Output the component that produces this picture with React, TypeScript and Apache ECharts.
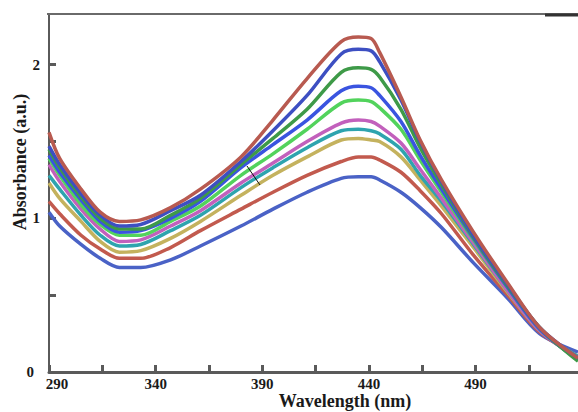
import React, { useEffect, useRef } from "react";
import * as echarts from "echarts";

const wavelengths = [290, 295, 305, 314, 323, 333, 347, 361, 380, 395, 411, 427, 435, 441, 445, 455, 464, 474, 489, 505, 520, 538];

const curve1 = [1.56, 1.39, 1.19, 1.04, 0.98, 0.99, 1.07, 1.19, 1.40, 1.64, 1.91, 2.15, 2.18, 2.17, 2.08, 1.79, 1.51, 1.25, 0.91, 0.58, 0.29, 0.09];
const curve2 = [1.47, 1.35, 1.16, 1.02, 0.95, 0.96, 1.05, 1.15, 1.37, 1.57, 1.80, 2.07, 2.10, 2.09, 2.02, 1.77, 1.50, 1.24, 0.89, 0.57, 0.29, 0.09];
const curve3 = [1.45, 1.33, 1.14, 1.00, 0.93, 0.93, 1.02, 1.13, 1.35, 1.52, 1.71, 1.95, 1.98, 1.97, 1.92, 1.71, 1.46, 1.22, 0.88, 0.56, 0.29, 0.07];
const curve4 = [1.41, 1.30, 1.12, 0.98, 0.91, 0.92, 1.00, 1.11, 1.33, 1.48, 1.64, 1.83, 1.86, 1.85, 1.80, 1.63, 1.41, 1.19, 0.87, 0.55, 0.28, 0.08];
const curve5 = [1.39, 1.28, 1.09, 0.96, 0.89, 0.89, 0.98, 1.08, 1.28, 1.42, 1.58, 1.75, 1.77, 1.76, 1.72, 1.58, 1.38, 1.17, 0.86, 0.55, 0.28, 0.08];
const curve6 = [1.35, 1.24, 1.06, 0.93, 0.85, 0.86, 0.95, 1.05, 1.23, 1.36, 1.50, 1.62, 1.64, 1.63, 1.60, 1.49, 1.32, 1.13, 0.84, 0.53, 0.27, 0.09];
const curve7 = [1.28, 1.19, 1.02, 0.89, 0.82, 0.83, 0.92, 1.02, 1.20, 1.33, 1.46, 1.57, 1.58, 1.57, 1.55, 1.45, 1.28, 1.11, 0.83, 0.53, 0.27, 0.10];
const curve8 = [1.23, 1.13, 0.98, 0.85, 0.78, 0.79, 0.87, 0.98, 1.15, 1.28, 1.40, 1.51, 1.52, 1.51, 1.50, 1.40, 1.25, 1.08, 0.81, 0.52, 0.27, 0.10];
const curve9 = [1.11, 1.03, 0.89, 0.80, 0.74, 0.74, 0.81, 0.92, 1.06, 1.17, 1.28, 1.37, 1.40, 1.40, 1.38, 1.30, 1.18, 1.03, 0.76, 0.50, 0.26, 0.10];
const curve10 = [1.04, 0.95, 0.83, 0.74, 0.68, 0.68, 0.73, 0.82, 0.95, 1.06, 1.17, 1.26, 1.27, 1.27, 1.25, 1.17, 1.07, 0.94, 0.71, 0.48, 0.25, 0.13];

const curves = [curve10, curve9, curve8, curve7, curve6, curve5, curve4, curve3, curve2, curve1];
const colors = ["#4a62c6", "#c25a4e", "#c4b25e", "#2ea4ae", "#c260bc", "#52d35c", "#3a54e0", "#3e9a48", "#3d4fc2", "#b85a50"];

const xTickLabels = [290, 340, 390, 440, 490];
const yTickLabels = [0, 1, 2];

const FONT = "'Liberation Serif', 'DejaVu Serif', serif";

const labelFont = {
  color: "#1a1a1a",
  fontFamily: FONT,
  fontWeight: "bold" as const,
  fontSize: 15,
};

export default function App() {
  const ref = useRef<HTMLDivElement>(null);

  useEffect(() => {
    if (!ref.current) return;
    const chart = echarts.init(ref.current, null, { renderer: "svg" });
    const option = {
      animation: false,
      backgroundColor: "#ffffff",
      grid: { left: 49, right: 0, top: 14, bottom: 40, containLabel: false },
      xAxis: {
        type: "value",
        min: 290,
        max: 538,
        interval: 25,
        axisLine: { show: true, lineStyle: { color: "#5a5a5a", width: 3 } },
        axisTick: { show: true, inside: true, length: 7, lineStyle: { color: "#5a5a5a", width: 3 } },
        splitLine: { show: false },
        axisLabel: {
          showMaxLabel: false,
          margin: 4,
          ...labelFont,
          formatter: (v: number) => {
            if (!xTickLabels.includes(v)) return "";
            return v === xTickLabels[0] ? `{first|${v}}` : String(v);
          },
          rich: {
            first: { ...labelFont, padding: [0, 0, 0, 16] },
          },
        },
      },
      yAxis: {
        type: "value",
        min: 0,
        max: 2.33,
        interval: 0.5,
        axisLine: { show: true, lineStyle: { color: "#5a5a5a", width: 2 } },
        axisTick: { show: true, inside: true, length: 7, lineStyle: { color: "#5a5a5a", width: 3 } },
        splitLine: { show: false },
        axisLabel: {
          showMaxLabel: false,
          margin: 9,
          ...labelFont,
          formatter: (v: number) => {
            if (!yTickLabels.includes(v)) return "";
            return v === 0 ? `{zero|${v}}` : String(v);
          },
          rich: {
            zero: { ...labelFont, padding: [0, 6, 0, 0] },
          },
        },
      },
      series: curves.map((c, i) => ({
        type: "line",
        data: wavelengths.map((w, j) => [w, c[j]]),
        smooth: 0.3,
        symbol: "none",
        lineStyle: { color: colors[i], width: 3.5 },
        z: 2 + i,
      })),
      graphic: [
        {
          type: "line",
          shape: { x1: 47, y1: 14, x2: 578, y2: 14 },
          style: { stroke: "#6a6a6a", lineWidth: 2 },
          z: 10,
        },
        {
          type: "line",
          shape: { x1: 545, y1: 15, x2: 578, y2: 15 },
          style: { stroke: "#333333", lineWidth: 3 },
          z: 10,
        },
        {
          type: "line",
          shape: { x1: 247, y1: 166, x2: 260, y2: 185 },
          style: { stroke: "#111111", lineWidth: 1 },
          z: 20,
        },
        {
          type: "text",
          x: 345,
          y: 401,
          style: {
            text: "Wavelength (nm)",
            fill: "#1a1a1a",
            font: `bold 18px ${FONT}`,
            textAlign: "center",
            textVerticalAlign: "middle",
          },
          z: 10,
        },
        {
          type: "text",
          x: 20,
          y: 162,
          rotation: Math.PI / 2,
          style: {
            text: "Absorbance (a.u.)",
            fill: "#1a1a1a",
            font: `bold 18px ${FONT}`,
            textAlign: "center",
            textVerticalAlign: "middle",
          },
          z: 10,
        },
      ],
    };
    chart.setOption(option);
    return () => chart.dispose();
  }, []);

  return (
    <div
      ref={ref}
      style={{ position: "fixed", left: 0, top: 0, width: 578, height: 412, background: "#fff" }}
    />
  );
}
